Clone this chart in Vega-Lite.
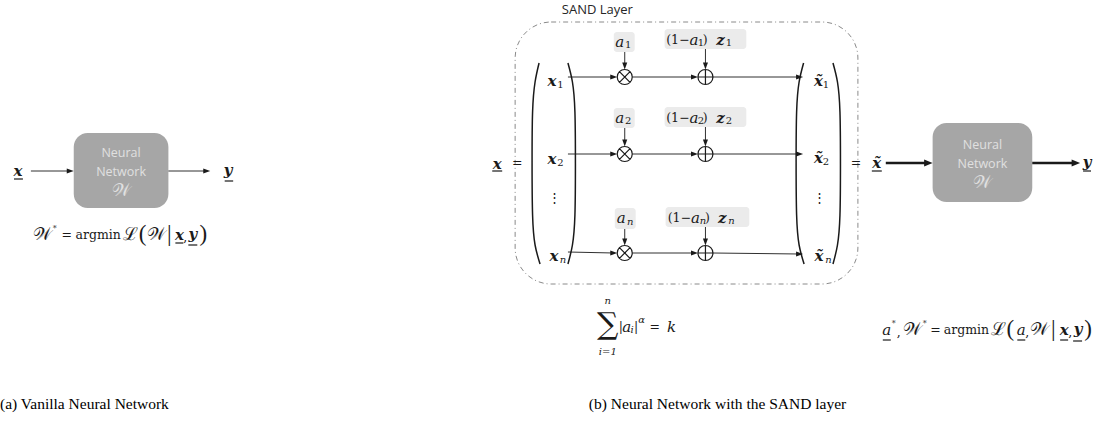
{
  "$schema": "https://vega.github.io/schema/vega-lite/v6.json",
  "width": 1103,
  "height": 425,
  "padding": 0,
  "autosize": {"type": "fit", "contains": "padding"},
  "background": "white",
  "config": {"view": {"stroke": null}},
  "datasets": {
    "sand": [{"x": 513, "x2": 857, "y": 22, "y2": 284}],
    "nn": [{"x": 70, "x2": 165, "y": 133, "y2": 208}, {"x": 932, "x2": 1032, "y": 123, "y2": 202}],
    "lbl": [
      {"x": 612, "x2": 633, "y": 32, "y2": 52}, {"x": 612, "x2": 633, "y": 108, "y2": 128}, {"x": 613, "x2": 634, "y": 208, "y2": 229},
      {"x": 663, "x2": 745, "y": 29, "y2": 49}, {"x": 663, "x2": 745, "y": 107, "y2": 127}, {"x": 664, "x2": 748, "y": 207, "y2": 227}
    ],
    "thin": [
      {"x": 27, "x2": 66, "y": 171, "y2": 171}, {"x": 165, "x2": 203, "y": 171, "y2": 171},
      {"x": 566, "x2": 612, "y": 77, "y2": 77}, {"x": 630.5, "x2": 693, "y": 77, "y2": 77}, {"x": 711.5, "x2": 798, "y": 77, "y2": 77},
      {"x": 566, "x2": 612, "y": 154, "y2": 154}, {"x": 630.5, "x2": 693, "y": 154, "y2": 154}, {"x": 711.5, "x2": 798, "y": 154, "y2": 154},
      {"x": 566, "x2": 612, "y": 252, "y2": 253}, {"x": 630.5, "x2": 693, "y": 253, "y2": 253}, {"x": 711.5, "x2": 798, "y": 253, "y2": 254},
      {"x": 623, "x2": 623, "y": 52, "y2": 66}, {"x": 704, "x2": 704, "y": 49, "y2": 66},
      {"x": 623, "x2": 623, "y": 128, "y2": 143}, {"x": 704, "x2": 704, "y": 127, "y2": 143},
      {"x": 623, "x2": 623, "y": 229, "y2": 242}, {"x": 704, "x2": 704, "y": 227, "y2": 242}
    ],
    "thick": [{"x": 885, "x2": 926, "y": 163, "y2": 163}, {"x": 1032, "x2": 1075, "y": 163, "y2": 163}],
    "under": [
      {"x": 10, "x2": 19, "y": 179, "y2": 179}, {"x": 221.5, "x2": 230, "y": 181, "y2": 181},
      {"x": 172, "x2": 180, "y": 243, "y2": 243}, {"x": 185, "x2": 194, "y": 245, "y2": 245},
      {"x": 490, "x2": 500, "y": 171, "y2": 171}, {"x": 871, "x2": 881, "y": 171, "y2": 171}, {"x": 1083, "x2": 1091, "y": 171, "y2": 171},
      {"x": 882, "x2": 890, "y": 340, "y2": 340}, {"x": 1017, "x2": 1025, "y": 340, "y2": 340},
      {"x": 1060, "x2": 1068, "y": 340, "y2": 340}, {"x": 1073, "x2": 1082, "y": 341, "y2": 341}
    ],
    "paren": [
      {"id": "a", "o": 0, "x": 537, "y": 63}, {"id": "a", "o": 1, "x": 533, "y": 82}, {"id": "a", "o": 2, "x": 530.5, "y": 112}, {"id": "a", "o": 3, "x": 530, "y": 163.5}, {"id": "a", "o": 4, "x": 530.5, "y": 215}, {"id": "a", "o": 5, "x": 533, "y": 245}, {"id": "a", "o": 6, "x": 538, "y": 264},
      {"id": "b", "o": 0, "x": 566, "y": 63}, {"id": "b", "o": 1, "x": 570.5, "y": 82}, {"id": "b", "o": 2, "x": 573, "y": 112}, {"id": "b", "o": 3, "x": 573.5, "y": 163.5}, {"id": "b", "o": 4, "x": 573, "y": 215}, {"id": "b", "o": 5, "x": 570.5, "y": 245}, {"id": "b", "o": 6, "x": 566, "y": 264},
      {"id": "c", "o": 0, "x": 802.5, "y": 63}, {"id": "c", "o": 1, "x": 798, "y": 82}, {"id": "c", "o": 2, "x": 795.5, "y": 112}, {"id": "c", "o": 3, "x": 795, "y": 163.5}, {"id": "c", "o": 4, "x": 795.5, "y": 215}, {"id": "c", "o": 5, "x": 798, "y": 245}, {"id": "c", "o": 6, "x": 803, "y": 264},
      {"id": "d", "o": 0, "x": 832, "y": 63}, {"id": "d", "o": 1, "x": 836.5, "y": 82}, {"id": "d", "o": 2, "x": 839, "y": 112}, {"id": "d", "o": 3, "x": 839.5, "y": 163.5}, {"id": "d", "o": 4, "x": 839, "y": 215}, {"id": "d", "o": 5, "x": 836.5, "y": 245}, {"id": "d", "o": 6, "x": 832, "y": 264}
    ],
    "headR": [
      {"x": 70, "y": 171}, {"x": 207, "y": 171},
      {"x": 615.5, "y": 77}, {"x": 696.5, "y": 77}, {"x": 802, "y": 77},
      {"x": 615.5, "y": 154}, {"x": 696.5, "y": 154}, {"x": 802, "y": 154},
      {"x": 615.5, "y": 253}, {"x": 696.5, "y": 253}, {"x": 802, "y": 254}
    ],
    "headD": [
      {"x": 623, "y": 69.5}, {"x": 704, "y": 69.5}, {"x": 623, "y": 146.5}, {"x": 704, "y": 146.5}, {"x": 623, "y": 245.5}, {"x": 704, "y": 245.5}
    ],
    "headT": [{"x": 932, "y": 163}, {"x": 1080, "y": 163}],
    "mult": [{"x": 623, "y": 77}, {"x": 623, "y": 154}, {"x": 623, "y": 253}],
    "plus": [{"x": 704, "y": 77}, {"x": 704, "y": 154}, {"x": 704, "y": 253}],
    "nnText": [
      {"x": 117.5, "y": 153, "t": "Neural"}, {"x": 117.5, "y": 172, "t": "Network"},
      {"x": 982, "y": 145, "t": "Neural"}, {"x": 982, "y": 164, "t": "Network"}
    ],
    "nnW": [{"x": 117.5, "y": 191, "t": "𝒲"}, {"x": 982, "y": 183, "t": "𝒲"}],
    "sandT": [{"x": 595.5, "y": 9.5, "t": "SAND Layer"}],
    "bold": [
      {"x": 14, "y": 171, "t": "x"}, {"x": 225, "y": 170, "t": "y"},
      {"x": 176, "y": 235, "t": "x"}, {"x": 189.5, "y": 234, "t": "y"},
      {"x": 495, "y": 164, "t": "x"},
      {"x": 550, "y": 81, "t": "x"}, {"x": 550, "y": 159, "t": "x"}, {"x": 552, "y": 256, "t": "x"},
      {"x": 817.5, "y": 81, "t": "x̃"}, {"x": 817.5, "y": 158, "t": "x̃"}, {"x": 818, "y": 256, "t": "x̃"},
      {"x": 876, "y": 163, "t": "x̃"}, {"x": 1087, "y": 162, "t": "y"},
      {"x": 1064, "y": 330, "t": "x"}, {"x": 1078, "y": 329, "t": "y"},
      {"x": 719, "y": 40, "t": "z"}, {"x": 719, "y": 118, "t": "z"}, {"x": 721, "y": 218, "t": "z"}
    ],
    "ital": [
      {"x": 618, "y": 41.5, "t": "a"}, {"x": 618, "y": 117.5, "t": "a"}, {"x": 619.5, "y": 218, "t": "a"},
      {"x": 692.5, "y": 39.5, "t": "a"}, {"x": 692.5, "y": 117.5, "t": "a"}, {"x": 694, "y": 217.5, "t": "a"},
      {"x": 886, "y": 330, "t": "a"}, {"x": 1021, "y": 330, "t": "a"},
      {"x": 625, "y": 327, "t": "a"}, {"x": 670, "y": 327, "t": "k"}
    ],
    "script": [
      {"x": 39, "y": 235, "t": "𝒲"}, {"x": 153, "y": 235, "t": "𝒲"}, {"x": 912, "y": 330, "t": "𝒲"}, {"x": 1039, "y": 330, "t": "𝒲"},
      {"x": 126.5, "y": 235, "t": "ℒ"}, {"x": 998.5, "y": 330, "t": "ℒ"}
    ],
    "subU": [
      {"x": 558.5, "y": 85, "t": "1"}, {"x": 558.5, "y": 163, "t": "2"},
      {"x": 825, "y": 85, "t": "1"}, {"x": 825, "y": 162, "t": "2"},
      {"x": 626.5, "y": 45, "t": "1"}, {"x": 626.5, "y": 121, "t": "2"},
      {"x": 699.5, "y": 43, "t": "1"}, {"x": 699.5, "y": 121, "t": "2"},
      {"x": 727.5, "y": 43, "t": "1"}, {"x": 727.5, "y": 121, "t": "2"}
    ],
    "subI": [
      {"x": 561, "y": 260, "t": "n"}, {"x": 827.5, "y": 260, "t": "n"},
      {"x": 628.5, "y": 222, "t": "n"}, {"x": 701.5, "y": 221, "t": "n"}, {"x": 730, "y": 221, "t": "n"},
      {"x": 630.5, "y": 330, "t": "i"},
      {"x": 640, "y": 320, "t": "α"}, {"x": 606, "y": 301, "t": "n"}, {"x": 606, "y": 352, "t": "i=1"}
    ],
    "up": [
      {"x": 63, "y": 235, "t": "="}, {"x": 94.5, "y": 235, "t": "argmin"}, {"x": 182, "y": 237, "t": ","},
      {"x": 935, "y": 330, "t": "="}, {"x": 966, "y": 330, "t": "argmin"},
      {"x": 898, "y": 332, "t": ","}, {"x": 1027, "y": 332, "t": ","}, {"x": 1070, "y": 332, "t": ","},
      {"x": 671, "y": 39.5, "t": "(1"}, {"x": 683, "y": 39.5, "t": "−"}, {"x": 703.8, "y": 39.5, "t": ")"},
      {"x": 671, "y": 117.5, "t": "(1"}, {"x": 683, "y": 117.5, "t": "−"}, {"x": 703.8, "y": 117.5, "t": ")"},
      {"x": 672.5, "y": 217.5, "t": "(1"}, {"x": 684.5, "y": 217.5, "t": "−"}, {"x": 706, "y": 217.5, "t": ")"},
      {"x": 515, "y": 163, "t": "="}, {"x": 855, "y": 163, "t": "="}, {"x": 653, "y": 327, "t": "="},
      {"x": 619, "y": 327, "t": "|"}, {"x": 634.5, "y": 327, "t": "|"},
      {"x": 553, "y": 198, "t": "⋮"}, {"x": 818, "y": 198, "t": "⋮"}
    ],
    "big": [
      {"x": 139, "y": 234, "t": "("}, {"x": 166, "y": 234, "t": "|"}, {"x": 200, "y": 234, "t": ")"},
      {"x": 1010, "y": 329, "t": "("}, {"x": 1053, "y": 329, "t": "|"}, {"x": 1088, "y": 329, "t": ")"}
    ],
    "star": [
      {"x": 51, "y": 229, "t": "*"}, {"x": 893, "y": 324, "t": "*"}, {"x": 924, "y": 324, "t": "*"}
    ],
    "sigma": [{"x": 606, "y": 325, "t": "∑"}],
    "cap": [
      {"x": -4, "y": 404, "t": "(a)  Vanilla Neural Network"},
      {"x": 587, "y": 404, "t": "(b)  Neural Network with the SAND layer"}
    ]
  },
  "encoding": {
    "x": {"field": "x", "type": "quantitative", "scale": {"domain": [0, 1103], "nice": false, "zero": false}, "axis": null},
    "y": {"field": "y", "type": "quantitative", "scale": {"domain": [0, 425], "nice": false, "zero": false, "reverse": true}, "axis": null}
  },
  "layer": [
    {"data": {"name": "sand"}, "mark": {"type": "rect", "cornerRadius": 36, "fill": null, "stroke": "#8a8a8a", "strokeWidth": 1, "strokeDash": [5, 3, 1, 3]},
     "encoding": {"x2": {"field": "x2"}, "y2": {"field": "y2"}}},
    {"data": {"name": "nn"}, "mark": {"type": "rect", "cornerRadius": 14, "fill": "#a6a6a6"},
     "encoding": {"x2": {"field": "x2"}, "y2": {"field": "y2"}}},
    {"data": {"name": "lbl"}, "mark": {"type": "rect", "cornerRadius": 3, "fill": "#ebebeb"},
     "encoding": {"x2": {"field": "x2"}, "y2": {"field": "y2"}}},
    {"data": {"name": "thin"}, "mark": {"type": "rule", "stroke": "#303030", "strokeWidth": 1},
     "encoding": {"x2": {"field": "x2"}, "y2": {"field": "y2"}}},
    {"data": {"name": "thick"}, "mark": {"type": "rule", "stroke": "#1a1a1a", "strokeWidth": 2.6},
     "encoding": {"x2": {"field": "x2"}, "y2": {"field": "y2"}}},
    {"data": {"name": "under"}, "mark": {"type": "rule", "stroke": "#1a1a1a", "strokeWidth": 1.2},
     "encoding": {"x2": {"field": "x2"}, "y2": {"field": "y2"}}},
    {"data": {"name": "paren"}, "mark": {"type": "line", "interpolate": "natural", "stroke": "#1a1a1a", "strokeWidth": 1.5},
     "encoding": {"detail": {"field": "id"}, "order": {"field": "o", "type": "quantitative"}}},
    {"data": {"name": "headR"}, "mark": {"type": "point", "shape": "M0,0L-2,-0.72L-2,0.72Z", "size": 49, "filled": true, "fill": "#1a1a1a", "opacity": 1, "strokeWidth": 0}},
    {"data": {"name": "headD"}, "mark": {"type": "point", "shape": "M0,0L-0.72,-2L0.72,-2Z", "size": 49, "filled": true, "fill": "#1a1a1a", "opacity": 1, "strokeWidth": 0}},
    {"data": {"name": "headT"}, "mark": {"type": "point", "shape": "M0,0L-2,-0.85L-2,0.85Z", "size": 72, "filled": true, "fill": "#1a1a1a", "opacity": 1, "strokeWidth": 0}},
    {"data": {"name": "mult"}, "mark": {"type": "point", "shape": "M-1,0A1,1,0,1,1,1,0A1,1,0,1,1,-1,0M-0.707,-0.707L0.707,0.707M-0.707,0.707L0.707,-0.707", "size": 225, "filled": false, "fill": "white", "stroke": "#1a1a1a", "strokeWidth": 1.2, "opacity": 1}},
    {"data": {"name": "plus"}, "mark": {"type": "point", "shape": "M-1,0A1,1,0,1,1,1,0A1,1,0,1,1,-1,0M-1,0L1,0M0,-1L0,1", "size": 225, "filled": false, "fill": "white", "stroke": "#1a1a1a", "strokeWidth": 1.2, "opacity": 1}},
    {"data": {"name": "nnText"}, "mark": {"type": "text", "font": "Open Sans", "fontSize": 12.5, "color": "#e0e0e0", "baseline": "middle", "align": "center"},
     "encoding": {"text": {"field": "t"}}},
    {"data": {"name": "nnW"}, "mark": {"type": "text", "font": "DejaVu Serif", "fontSize": 18, "color": "#e0e0e0", "baseline": "middle", "align": "center"},
     "encoding": {"text": {"field": "t"}}},
    {"data": {"name": "sandT"}, "mark": {"type": "text", "font": "Open Sans", "fontSize": 13, "color": "#262626", "baseline": "middle", "align": "center"},
     "encoding": {"text": {"field": "t"}}},
    {"data": {"name": "bold"}, "mark": {"type": "text", "font": "DejaVu Serif", "fontSize": 15, "fontStyle": "italic", "fontWeight": "bold", "color": "#1a1a1a", "baseline": "middle", "align": "center"},
     "encoding": {"text": {"field": "t"}}},
    {"data": {"name": "ital"}, "mark": {"type": "text", "font": "DejaVu Serif", "fontSize": 15, "fontStyle": "italic", "color": "#1a1a1a", "baseline": "middle", "align": "center"},
     "encoding": {"text": {"field": "t"}}},
    {"data": {"name": "script"}, "mark": {"type": "text", "font": "DejaVu Serif", "fontSize": 18, "color": "#1a1a1a", "baseline": "middle", "align": "center"},
     "encoding": {"text": {"field": "t"}}},
    {"data": {"name": "subU"}, "mark": {"type": "text", "font": "DejaVu Serif", "fontSize": 10, "color": "#1a1a1a", "baseline": "middle", "align": "center"},
     "encoding": {"text": {"field": "t"}}},
    {"data": {"name": "subI"}, "mark": {"type": "text", "font": "DejaVu Serif", "fontSize": 10, "fontStyle": "italic", "color": "#1a1a1a", "baseline": "middle", "align": "center"},
     "encoding": {"text": {"field": "t"}}},
    {"data": {"name": "up"}, "mark": {"type": "text", "font": "DejaVu Serif", "fontSize": 12.5, "color": "#1a1a1a", "baseline": "middle", "align": "center"},
     "encoding": {"text": {"field": "t"}}},
    {"data": {"name": "big"}, "mark": {"type": "text", "font": "Liberation Serif", "fontSize": 23, "color": "#1a1a1a", "baseline": "middle", "align": "center"},
     "encoding": {"text": {"field": "t"}}},
    {"data": {"name": "star"}, "mark": {"type": "text", "font": "DejaVu Serif", "fontSize": 8, "color": "#1a1a1a", "baseline": "middle", "align": "center"},
     "encoding": {"text": {"field": "t"}}},
    {"data": {"name": "sigma"}, "mark": {"type": "text", "font": "DejaVu Serif", "fontSize": 30, "color": "#1a1a1a", "baseline": "middle", "align": "center"},
     "encoding": {"text": {"field": "t"}}},
    {"data": {"name": "cap"}, "mark": {"type": "text", "font": "Liberation Serif", "fontSize": 15.5, "color": "#000000", "baseline": "middle", "align": "left"},
     "encoding": {"text": {"field": "t"}}}
  ]
}
